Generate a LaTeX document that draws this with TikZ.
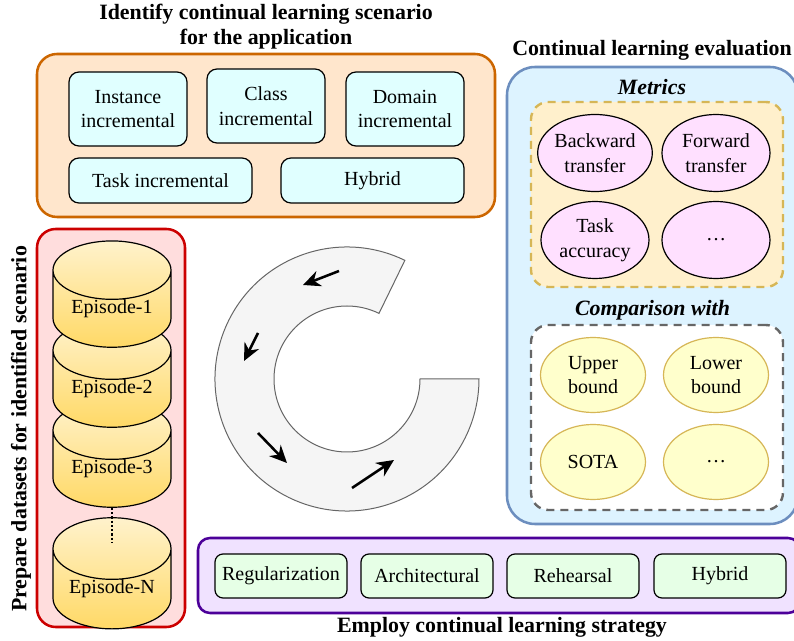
\documentclass[tikz,border=0pt]{standalone}
\usepackage{fontspec}
\setmainfont{Liberation Serif}
\usetikzlibrary{positioning,calc,shapes.geometric,arrows.meta}

\definecolor{scenline}{HTML}{CC6600}
\definecolor{scenfill}{HTML}{FFE6CC}
\definecolor{scenbox}{HTML}{E0FFFF}
\definecolor{evalline}{HTML}{6C8EBF}
\definecolor{evalfill}{HTML}{DDF3FF}
\definecolor{metline}{HTML}{D6B656}
\definecolor{metfill}{HTML}{FFF0CC}
\definecolor{metell}{HTML}{FFE0FF}
\definecolor{cmpline}{HTML}{666666}
\definecolor{cmpell}{HTML}{FFFFCC}
\definecolor{dataline}{HTML}{CC0000}
\definecolor{datafill}{HTML}{FFDDDD}
\definecolor{epitop}{HTML}{FFF2CC}
\definecolor{epibot}{HTML}{FFD966}
\definecolor{stratline}{HTML}{4C0099}
\definecolor{stratfill}{HTML}{F0E2FF}
\definecolor{stratbox}{HTML}{E6FFE6}
\definecolor{ringfill}{HTML}{F5F5F5}

\begin{document}
\begin{tikzpicture}[x=0.75pt, y=-0.75pt,
    body/.style={font=\fontsize{15}{18.5}\selectfont, align=center, inner sep=0pt},
    head/.style={font=\fontsize{16.4}{18.8}\selectfont\bfseries, align=center, inner sep=0pt},
    group/.style={draw, line width=1.9pt, inner sep=0pt},
    frame/.style={line width=1.8pt, dash pattern=on 6pt off 4.5pt, rounded corners=13pt, minimum width=189pt, minimum height=138.75pt},
    scen/.style={body, draw, fill=scenbox, line width=0.9pt, rounded corners=7.5pt},
    metric/.style={body, ellipse, draw, fill=metell, line width=0.9pt, minimum width=81pt, minimum height=57.75pt},
    rival/.style={body, ellipse, draw=metline, fill=cmpell, line width=0.9pt, minimum width=78.75pt, minimum height=56.25pt},
    episode/.style={body, cylinder, shape border rotate=90, draw, line width=0.9pt, aspect=0.72,
      minimum width=88.5pt, minimum height=56.5pt, top color=epitop, bottom color=epibot},
    strat/.style={body, draw, fill=stratbox, line width=0.9pt, rounded corners=6pt, minimum width=99pt, minimum height=33pt},
    turn/.style={-{Stealth[length=13pt, width=12pt]}, line width=1.9pt}]
  \clip (0, 0) rectangle (794, 641);
  \useasboundingbox (0, 0) rectangle (794, 641);

  % scenario
  \node [group, draw=scenline, fill=scenfill, rounded corners=15pt, minimum width=343.5pt, minimum height=122.25pt] (scenario) at (266, 135.5) {};
  \node [head] (scentitle) at (266, 27) {Identify continual learning scenario\\for the application};
  \node [scen, minimum width=88.5pt, minimum height=55.5pt] (instance) at (128, 109) {Instance\\incremental};
  \node [scen, minimum width=88.5pt, minimum height=55.5pt] (class) at (266, 106) {Class\\incremental};
  \node [scen, minimum width=88.5pt, minimum height=55.5pt] (domain) at (405, 109) {Domain\\incremental};
  \node [scen, minimum width=137.25pt, minimum height=33.75pt] (task) at (160.5, 180.5) {Task incremental};
  \node [scen, minimum width=137.25pt, minimum height=33.75pt] (hybscen) at (372.5, 180.5) {Hybrid};

  % evaluation
  \node [group, draw=evalline, fill=evalfill, rounded corners=21pt, minimum width=218.25pt, minimum height=342.75pt] (evaluation) at (652.5, 295.5) {};
  \node [head] (evaltitle) at (652, 50) {Continual learning evaluation};
  \node [head, font=\fontsize{16.4}{18.8}\selectfont\bfseries\itshape] (mettitle) at (652, 87) {Metrics};
  \node [frame, draw=metline, fill=metfill] (metrics) at (657, 194.5) {};
  \node [metric] (backward) at (595, 153) {Backward\\transfer};
  \node [metric] (forward) at (716, 153) {Forward\\transfer};
  \node [metric] (accuracy) at (595, 240) {Task\\accuracy};
  \node [metric] (moremet) at (716, 240) {\dots};
  \node [head, font=\fontsize{16.4}{18.8}\selectfont\bfseries\itshape] (cmptitle) at (652.5, 310) {Comparison with};
  \node [frame, draw=cmpline, fill=white] (comparison) at (657, 417.5) {};
  \node [rival] (upper) at (593, 375) {Upper\\bound};
  \node [rival] (lower) at (716, 375) {Lower\\bound};
  \node [rival] (sota) at (593, 462) {SOTA};
  \node [rival] (morecmp) at (716, 462) {\dots};

  % datasets
  \node [group, draw=dataline, fill=datafill, rounded corners=14pt, minimum width=111pt, minimum height=298.5pt] (datasets) at (111, 428) {};
  \node [head, rotate=90] (datatitle) at (21, 429) {Prepare datasets for identified scenario};
  \node [episode] (epN) at (112, 589) {Episode-N};
  \node [episode] (ep3) at (112, 469) {Episode-3};
  \node [episode] (ep2) at (112, 389) {Episode-2};
  \node [episode] (ep1) at (112, 309) {Episode-1};
  \coordinate (dotend) at (112, 543);
  \draw [line width=1.6pt, dash pattern=on 1.6pt off 1.6pt] (ep3.south) -- (dotend);

  % cycle
  \coordinate (ring) at (347, 379);
  \draw [fill=ringfill, draw=cmpline, line width=0.75pt] ($(ring)+(-64:132)$) arc[start angle=-64, end angle=-360, radius=132]
    -- ($(ring)+(0:73)$) arc[start angle=-360, end angle=-64, radius=73] -- cycle;
  \coordinate (t1) at (339, 271); \coordinate (h1) at (303, 285);
  \coordinate (t2) at (258, 333); \coordinate (h2) at (244, 361);
  \coordinate (t3) at (258, 433); \coordinate (h3) at (287, 463);
  \coordinate (t4) at (352, 488); \coordinate (h4) at (394, 460);
  \foreach \i in {1,...,4}
    \draw [turn] (t\i) -- (h\i);

  % strategy
  \node [group, draw=stratline, fill=stratfill, rounded corners=9pt, minimum width=451.5pt, minimum height=56.25pt] (strategy) at (499, 575.5) {};
  \node [strat] (regular) at (281, 576) {Regularization};
  \node [strat] (archi) at (427, 576) {Architectural};
  \node [strat] (rehearsal) at (573, 576) {Rehearsal};
  \node [strat] (hybstrat) at (720, 576) {Hybrid};
  \node [head] (strattitle) at (502, 627) {Employ continual learning strategy};
\end{tikzpicture}
\end{document}
